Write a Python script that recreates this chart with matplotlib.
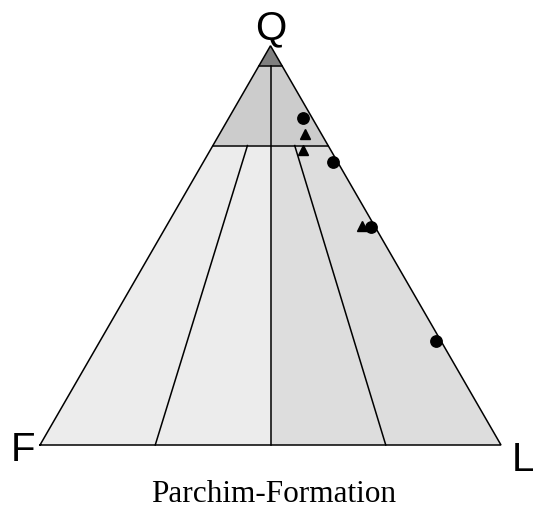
import numpy as np
import matplotlib
matplotlib.use("Agg")
import matplotlib.pyplot as plt
from matplotlib.patches import Polygon

# Sample compositions (fractions of Q and L; F = 1 - Q - L)
circle_Q = [0.82, 0.71, 0.545, 0.26]
circle_L = [0.16, 0.28, 0.445, 0.73]
triangle_Q = [0.78, 0.74, 0.548]
triangle_L = [0.185, 0.20, 0.425]

# Field boundaries (Q levels) and divider positions along the F-L direction
q_cap = 0.95
q_upper = 0.75
base_splits = [0.25, 0.5, 0.75]      # L/(F+L) at the F-L base
top_splits = [0.30, 0.5, 0.71]       # L/(F+L) on the Q = 75 % line

title = "Parchim-Formation"


def xy(q, l):
    """Ternary (Q, L) -> cartesian, F at origin, L at (1, 0)."""
    q = np.asarray(q, dtype=float)
    l = np.asarray(l, dtype=float)
    return l + q / 2.0, q * np.sqrt(3) / 2.0


def on_level(q, ratio):
    """Point on the line of constant Q with given L/(F+L)."""
    return xy(q, (1 - q) * ratio)


W, H = 534, 517
fig = plt.figure(figsize=(W / 100, H / 100), dpi=100)
ax = fig.add_axes([0, 0, 1, 1])
scale = 461.0
x0, yb = 40.0, 72.0
ax.set_xlim(-x0 / scale, (W - x0) / scale)
ax.set_ylim(-yb / scale, (H - yb) / scale)
ax.axis("off")

apex = xy(1, 0)
pF = xy(0, 0)
pL = xy(0, 1)

# Lower fields (Q < 75 %): F side lighter, L side slightly darker
left_low = [on_level(0, 0), on_level(0, 0.5), on_level(q_upper, 0.5), on_level(q_upper, 0)]
right_low = [on_level(0, 0.5), on_level(0, 1), on_level(q_upper, 1), on_level(q_upper, 0.5)]
ax.add_patch(Polygon(left_low, closed=True, facecolor="#ececec", edgecolor="none"))
ax.add_patch(Polygon(right_low, closed=True, facecolor="#dddddd", edgecolor="none"))

# Quartz-rich field 75-95 %
upper = [on_level(q_upper, 0), on_level(q_upper, 1), on_level(q_cap, 1), on_level(q_cap, 0)]
ax.add_patch(Polygon(upper, closed=True, facecolor="#cccccc", edgecolor="none"))

# Quartz-arenite cap > 95 %
cap = [on_level(q_cap, 0), on_level(q_cap, 1), apex]
ax.add_patch(Polygon(cap, closed=True, facecolor="#7f7f7f", edgecolor="none"))

lw = 1.1
# Outer triangle
tri_x = [pF[0], pL[0], apex[0], pF[0]]
tri_y = [pF[1], pL[1], apex[1], pF[1]]
ax.plot(tri_x, tri_y, color="black", lw=lw, solid_joinstyle="miter")

# Horizontal boundaries
for q in (q_cap, q_upper):
    a, b = on_level(q, 0), on_level(q, 1)
    ax.plot([a[0], b[0]], [a[1], b[1]], color="black", lw=lw)

# Central divider from the cap down to the base
a, b = on_level(q_cap, 0.5), on_level(0, 0.5)
ax.plot([a[0], b[0]], [a[1], b[1]], color="black", lw=lw)

# Side dividers in the lower field
for rb, rt in zip(base_splits, top_splits):
    if rb == 0.5:
        continue
    a, b = on_level(0, rb), on_level(q_upper, rt)
    ax.plot([a[0], b[0]], [a[1], b[1]], color="black", lw=lw)

# Data points
cx, cy = xy(circle_Q, circle_L)
tx, ty = xy(triangle_Q, triangle_L)
ax.plot(tx, ty, linestyle="none", marker="^", color="black", markersize=7.5, zorder=5)
ax.plot(cx, cy, linestyle="none", marker="o", color="black", markersize=8.2, zorder=6)

# Vertex labels
lab = dict(family=["Liberation Sans", "DejaVu Sans"], fontsize=29, color="black")
ax.text(apex[0], apex[1] + 17 / scale, "Q", ha="center", va="center", **lab)
ax.text(pF[0] - 17 / scale, pF[1] - 5 / scale, "F", ha="center", va="center", **lab)
ax.text(pL[0] + 22 / scale, pL[1] - 15 / scale, "L", ha="center", va="center", **lab)

ax.text(0.5 + 3 / scale, -50 / scale, title, ha="center", va="center",
        family=["Liberation Serif", "DejaVu Serif"], fontsize=22.5, color="black")

fig.savefig("out.png", dpi=100)
